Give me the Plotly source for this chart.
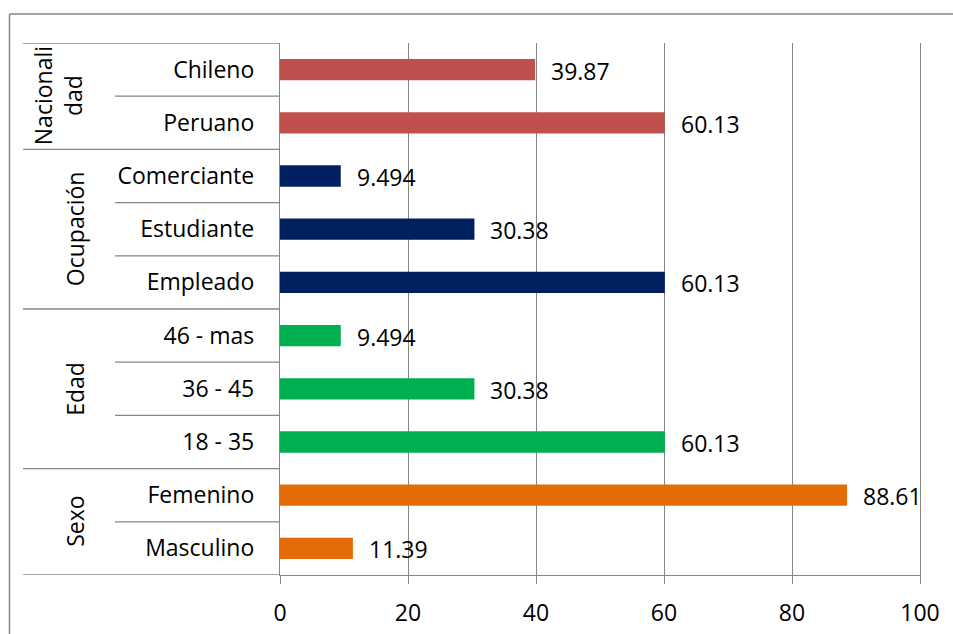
import plotly.graph_objects as go

# Survey profile: share of respondents (%) by characteristic
categories = ["Chileno", "Peruano", "Comerciante", "Estudiante", "Empleado",
              "46 - mas", "36 - 45", "18 - 35", "Femenino", "Masculino"]
values = [39.87, 60.13, 9.494, 30.38, 60.13, 9.494, 30.38, 60.13, 88.61, 11.39]
group_labels = ["Nacionali<br>dad", "Ocupación", "Edad", "Sexo"]
group_sizes = [2, 3, 3, 2]
group_colors = ["#C0504D", "#002060", "#00B050", "#E36C09"]
x_ticks = [0, 20, 40, 60, 80, 100]

FONT = "Open Sans"
FSIZE = 23
GRID = "#868686"
W, H = 953, 634
L, R, T, B = 280, 33, 43, 59
plot_w = W - L - R
X_MAX = x_ticks[-1]


def px_to_paper_x(px):
    return (px - L) / plot_w


bar_colors = []
for color, size in zip(group_colors, group_sizes):
    bar_colors += [color] * size

fig = go.Figure(go.Bar(
    x=values, y=categories, orientation="h",
    marker=dict(color=bar_colors, line=dict(width=0)),
    width=0.4, hoverinfo="x+y",
))

# value labels just past the end of each bar
annotations = []
for cat, v in zip(categories, values):
    annotations.append(dict(
        x=v, y=cat, xref="x", yref="y", text=f"{v:g}", showarrow=False,
        xanchor="left", yanchor="middle", xshift=14, yshift=-1,
        font=dict(family=FONT, size=FSIZE, color="black"),
    ))

# grouped category axis: separators and rotated group titles
shapes = []
line_style = dict(color=GRID, width=1.3)
start = 0
boundaries = [-0.5]
for lbl, size in zip(group_labels, group_sizes):
    end = start + size
    boundaries.append(end - 0.5)
    for k in range(start + 1, end):
        shapes.append(dict(type="line", xref="paper", yref="y",
                           x0=px_to_paper_x(115), x1=0, y0=k - 0.5, y1=k - 0.5,
                           line=line_style))
    n_lines = lbl.count("<br>") + 1
    annotations.append(dict(
        x=px_to_paper_x(75 - (n_lines - 1) * 17), y=(start + end - 1) / 2,
        xref="paper", yref="y", text=lbl, textangle=-90, showarrow=False,
        xanchor="center", yanchor="middle",
        font=dict(family=FONT, size=FSIZE, color="black"),
    ))
    start = end
for b in boundaries:
    shapes.append(dict(type="line", xref="paper", yref="y",
                       x0=px_to_paper_x(23), x1=0, y0=b, y1=b, line=line_style))

# chart frame (left and top edges)
frame_top = (H - B - 14) / (H - T - B)
shapes.append(dict(type="line", xref="paper", yref="paper",
                   x0=px_to_paper_x(9.5), x1=px_to_paper_x(9.5),
                   y0=-1, y1=frame_top,
                   line=dict(color=GRID, width=1.5)))
shapes.append(dict(type="line", xref="paper", yref="paper",
                   x0=px_to_paper_x(9.5), x1=2,
                   y0=frame_top, y1=frame_top,
                   line=dict(color=GRID, width=1.5)))

fig.update_layout(
    width=W, height=H,
    margin=dict(l=L, r=R, t=T, b=B, pad=0, autoexpand=False),
    paper_bgcolor="white", plot_bgcolor="white",
    showlegend=False,
    bargap=0.6,
    xaxis=dict(
        range=[0, X_MAX], tickvals=x_ticks, ticktext=[str(t) for t in x_ticks],
        showgrid=True, gridcolor=GRID, gridwidth=1.3,
        showline=True, linecolor=GRID, linewidth=1.3,
        ticks="outside", ticklen=8, tickcolor=GRID, tickwidth=1.3,
        zeroline=False, ticklabelstandoff=9, automargin=False,
        tickfont=dict(family=FONT, size=FSIZE, color="black"),
    ),
    yaxis=dict(
        type="category", categoryorder="array", categoryarray=categories,
        range=[9.5, -0.5],
        showgrid=False, zeroline=False,
        # mirrored line doubles as the gridline at the last value tick
        showline=True, mirror=True, linecolor=GRID, linewidth=1.3,
        ticks="", ticklabelstandoff=20, automargin=False,
        tickfont=dict(family=FONT, size=FSIZE, color="black"),
    ),
    shapes=shapes,
    annotations=annotations,
)

fig.write_html("out.html")
